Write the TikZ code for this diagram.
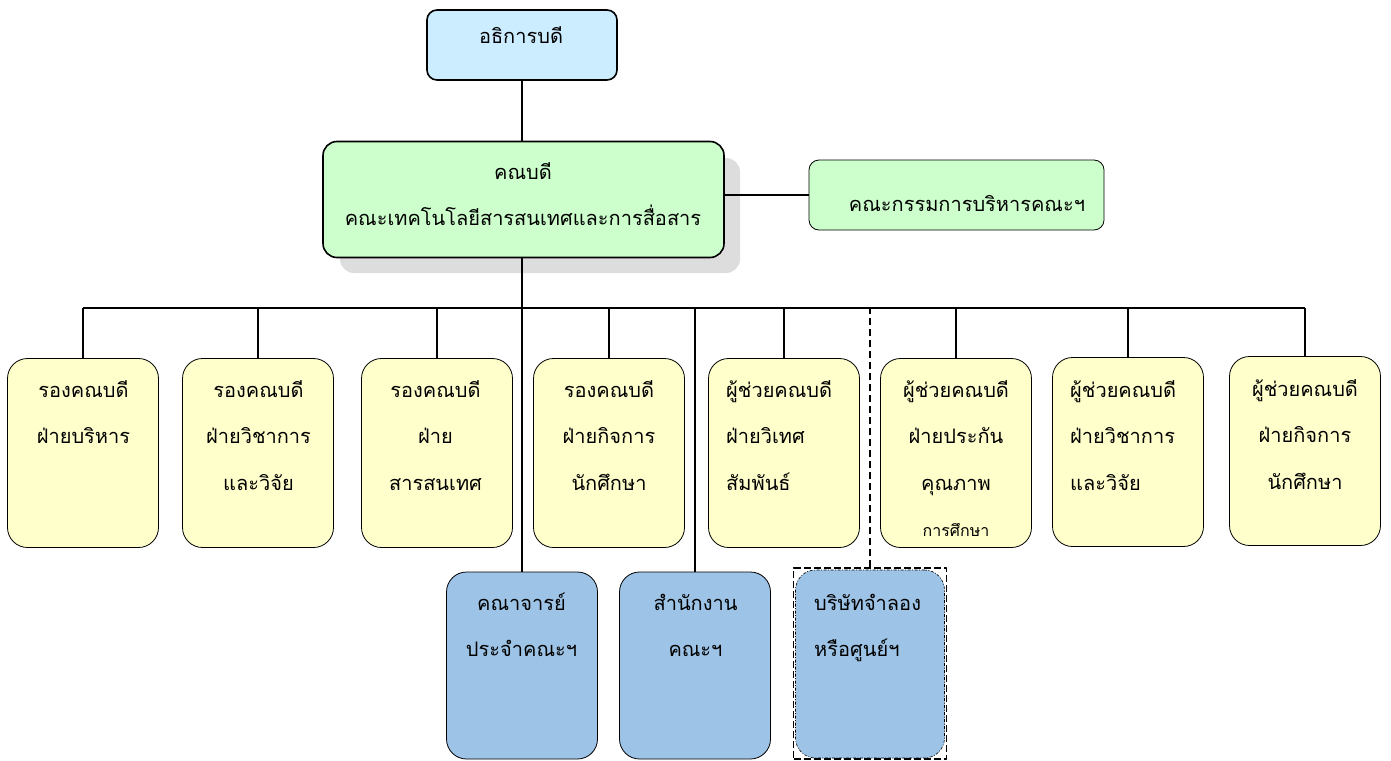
\documentclass[tikz,border=0pt]{standalone}
\usepackage{fontspec}
\newfontfamily\thai[Script=Thai]{Loma}
\usetikzlibrary{calc}
\definecolor{topblue}{HTML}{CCECFF}
\definecolor{mgreen}{HTML}{CCFFCC}
\definecolor{yel}{HTML}{FFFFCC}
\definecolor{bblue}{HTML}{9DC3E6}
\definecolor{shadowgray}{HTML}{DDDDDD}
\newcommand\tst{\rule{0pt}{24pt}}
\begin{document}
\begin{tikzpicture}[x=1pt,y=-1pt,line join=round,
  box/.style={draw=black,rounded corners=20pt,inner sep=0pt,line width=0.8pt},
  ybox/.style={box,fill=yel,minimum width=151pt,minimum height=189pt},
  bbox/.style={box,fill=bblue,minimum width=151pt,minimum height=187pt},
  txt/.style={font=\thai\fontsize{20}{46.5}\selectfont,inner sep=0pt,anchor=north},
  ctxt/.style={txt,align=center},
  ltxt/.style={txt,align=left,anchor=north west},
  conn/.style={line width=2pt}]
\useasboundingbox (0,0) rectangle (1391,760);
% top boxes
\node[box,rounded corners=10pt,line width=1.6pt,fill=topblue,minimum width=190pt,minimum height=70pt] (t) at (522,45) {};
\fill[shadowgray,rounded corners=14pt] (340,158) rectangle (740,273);
\node[box,rounded corners=14pt,line width=1.6pt,fill=mgreen,minimum width=401pt,minimum height=116pt] (g) at (523.5,199.5) {};
\node[box,rounded corners=10pt,fill=mgreen,minimum width=295pt,minimum height=70pt] (r) at (956.5,195) {};
% yellow
\node[ybox] (v1) at (83,453) {};
\node[ybox] (v2) at (258,453) {};
\node[ybox] (v3) at (437,453) {};
\node[ybox] (v4) at (609,453) {};
\node[ybox] (v5) at (784,453) {};
\node[ybox] (v6) at (956,453) {};
\node[ybox] (v7) at (1128,452) {};
\node[ybox] (v8) at (1305,451) {};
% blue
\node[bbox] (a) at (522,665.5) {};
\node[bbox] (b) at (695,665.5) {};
\node[bbox,minimum width=149pt,minimum height=188pt,dash pattern=on 3pt off 1.5pt on 1pt off 1.5pt,line width=0.6pt] (c) at (870,664) {};
\node[draw=black,line width=1.4pt,dash pattern=on 7pt off 3pt,minimum width=153pt,minimum height=191pt,inner sep=0pt] (cf) at (870,663.5) {};
% connectors
\coordinate (bus) at (0,308);
\draw[conn] (t.south) -- (t.south |- g.north);
\draw[conn] (g.east |- r.west) -- (r.west);
\draw[conn] (a.north |- g.south) -- (a.north);
\draw[conn] (v1.north |- bus) -- (v8.north |- bus);
\foreach \n in {v1,v2,v3,v4,v5,v6,v7,v8} \draw[conn] (\n.north) -- (\n.north |- bus);
\draw[conn] (b.north) -- (b.north |- bus);
\draw[conn,dash pattern=on 7pt off 4pt] (cf.north) -- (cf.north |- bus);
% texts
\node[txt,anchor=base] (tt) at (521,44) {อธิการบดี};
\node[ctxt] (gt) at (523,155) {\tst คณบดี\\คณะเทคโนโลยีสารสนเทศและการสื่อสาร};
\node[txt,anchor=base] (rt) at (967,211) {คณะกรรมการบริหารคณะฯ};
\node[ctxt] (v1t) at (83.5,373) {\tst รองคณบดี\\ฝ่ายบริหาร};
\node[ctxt] (v2t) at (258.5,373) {\tst รองคณบดี\\ฝ่ายวิชาการ\\และวิจัย};
\node[ctxt] (v3t) at (435.5,373) {\tst รองคณบดี\\ฝ่าย\\สารสนเทศ};
\node[ctxt] (v4t) at (609,373) {\tst รองคณบดี\\ฝ่ายกิจการ\\นักศึกษา};
\node[ltxt] (v5t) at (726,373) {\tst ผู้ช่วยคณบดี\\ฝ่ายวิเทศ\\สัมพันธ์};
\node[ctxt] (v6t) at (956,373) {\tst ผู้ช่วยคณบดี\\ฝ่ายประกัน\\คุณภาพ\\{\fontsize{16}{46.5}\selectfont การศึกษา}};
\node[ltxt] (v7t) at (1070,373) {\tst ผู้ช่วยคณบดี\\ฝ่ายวิชาการ\\และวิจัย};
\node[ctxt] (v8t) at (1305,372) {\tst ผู้ช่วยคณบดี\\ฝ่ายกิจการ\\นักศึกษา};
\node[ctxt] (at) at (521.5,586) {\tst คณาจารย์\\ประจำคณะฯ};
\node[ctxt] (bt) at (695.5,586) {\tst สำนักงาน\\คณะฯ};
\node[ltxt] (ct) at (814,586) {\tst บริษัทจำลอง\\หรือศูนย์ฯ};
\end{tikzpicture}
\end{document}
